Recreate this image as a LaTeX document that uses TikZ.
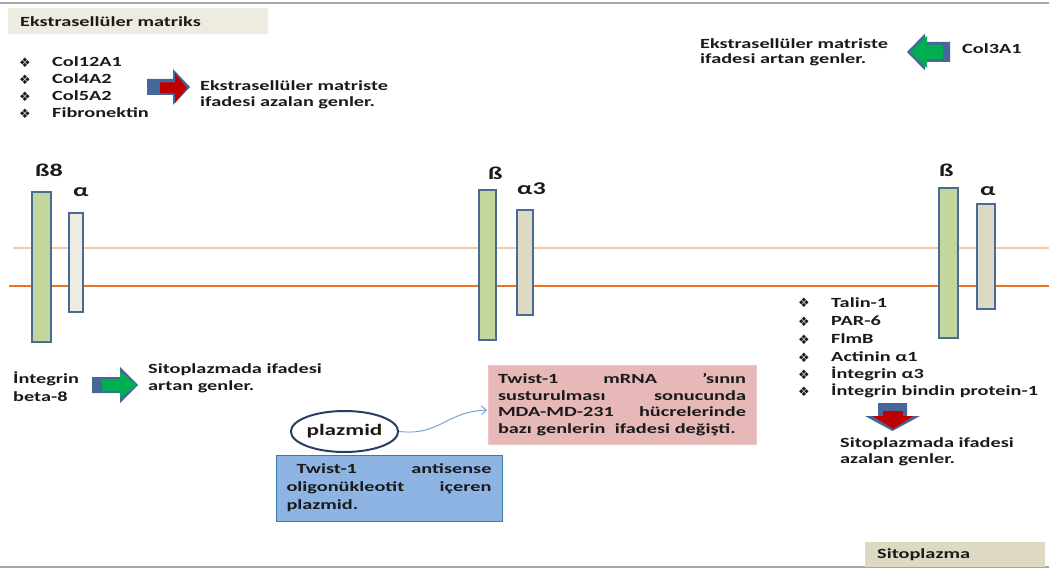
\documentclass[tikz,border=0pt]{standalone}
\usepackage{fontspec}
\setmainfont{Carlito}[FakeStretch=1.45]
\newfontfamily\symfont{DejaVu Sans}
\usetikzlibrary{arrows.meta,shapes.geometric}
\definecolor{hdrF}{HTML}{EEECE1}
\definecolor{cytoF}{HTML}{DDD9C3}
\definecolor{betaF}{HTML}{C3D69B}
\definecolor{barD}{HTML}{4A6B97}
\definecolor{memL}{HTML}{FAC8A0}
\definecolor{memD}{HTML}{EC7420}
\definecolor{pinkF}{HTML}{E6B9B8}
\definecolor{pinkD}{HTML}{EBC6C5}
\definecolor{blueF}{HTML}{8EB4E3}
\definecolor{blueD}{HTML}{3A7CA5}
\definecolor{ellD}{HTML}{254061}
\definecolor{shadB}{HTML}{46679A}
\definecolor{redA}{HTML}{C00000}
\definecolor{greenA}{HTML}{00B050}
\definecolor{connC}{HTML}{6F9BD1}
\definecolor{grayL}{HTML}{A6A6A6}
\definecolor{txtC}{HTML}{1A1A1A}
\newcommand\hblkarrow[7]{\fill[#1] ({#2},{#5-#6}) -- ({#3},{#5-#6}) -- ({#3},{#5-#7}) -- ({#4},{#5}) -- ({#3},{#5+#7}) -- ({#3},{#5+#6}) -- ({#2},{#5+#6}) -- cycle;}
\newcommand\vblkarrow[7]{\fill[#1] ({#5-#6},{#2}) -- ({#5-#6},{#3}) -- ({#5-#7},{#3}) -- ({#5},{#4}) -- ({#5+#7},{#3}) -- ({#5+#6},{#3}) -- ({#5+#6},{#2}) -- cycle;}
\tikzset{
  txt/.style={anchor=base west, inner sep=0pt, text=txtC, font=\bfseries\fontsize{14}{17}\selectfont},
  lbl/.style={anchor=base west, inner sep=0pt, text=txtC, font=\bfseries\fontsize{18}{20}\selectfont},
  bul/.style={anchor=base west, inner sep=0pt, text=txtC, font=\symfont\fontsize{13}{12}\selectfont},
  hdrbox/.style={fill=hdrF, draw=none},
  cytobox/.style={fill=cytoF, draw=none},
  betabar/.style={draw=barD, line width=2.2pt, fill=betaF, inner sep=0pt},
  alphabar/.style={draw=barD, line width=2.2pt, inner sep=0pt},
  shadow/.style={fill=shadB},
  redfill/.style={fill=redA},
  greenfill/.style={fill=greenA},
  memlight/.style={draw=memL, line width=1.5pt},
  memdark/.style={draw=memD, line width=1.5pt},
  frame/.style={draw=grayL, line width=1.5pt},
  conn/.style={draw=connC, line width=0.9pt, -{Straight Barb[length=5pt,width=9pt]}},
}
\begin{document}
\begin{tikzpicture}[x=1pt,y=-1pt]
\useasboundingbox (0,0) rectangle (1049,569);
\fill[white] (0,0) rectangle (1049,569);
% frame lines
\draw[frame] (0,3) -- (1049,3);
\draw[frame] (0,567) -- (1049,567);
% header
\fill[hdrbox] (8,8) rectangle (268,34);
\node[txt] (hdr) at (20,27) {Ekstrasellüler matriks};
% top-left list
\node[bul] (bu1) at (19,68) {❖};
\node[bul] (bu2) at (19,85) {❖};
\node[bul] (bu3) at (19,102) {❖};
\node[bul] (bu4) at (19,119) {❖};
\node[txt] (c1) at (52,67) {Col12A1};
\node[txt] (c2) at (52,84) {Col4A2};
\node[txt] (c3) at (52,101) {Col5A2};
\node[txt] (c4) at (52,118) {Fibronektin};
\hblkarrow{shadow}{147}{173}{190}{87}{8}{18}
\hblkarrow{redfill}{160}{175}{187}{88}{5.5}{15}
\node[txt] (ea1) at (200,91) {Ekstrasellüler matriste};
\node[txt] (ea2) at (200,107) {ifadesi azalan genler.};
% top-right
\node[txt] (er1) at (700,49) {Ekstrasellüler matriste};
\node[txt] (er2) at (700,64) {ifadesi artan genler.};
\hblkarrow{shadow}{950}{925}{907}{52}{10}{18.5}
\hblkarrow{greenfill}{943}{927}{910}{52}{7}{16}
\node[txt] (col3) at (962,54) {Col3A1};
% membrane
\draw[memlight] (13,248) -- (1049,248);
\draw[memdark] (9,286) -- (1049,286);
% integrin 1
\node[betabar, minimum width=19pt, minimum height=150pt] (b1) at (41.5,267) {};
\node[alphabar, fill=hdrF, minimum width=14pt, minimum height=99pt] (a1) at (76,262.5) {};
\node[lbl] (lb1) at (35,177) {ß8};
\node[lbl] (la1) at (73,197) {α};
% integrin 2
\node[betabar, minimum width=17pt, minimum height=150pt] (b2) at (487.5,265) {};
\node[alphabar, fill=cytoF, minimum width=16pt, minimum height=105pt] (a2) at (525,262.5) {};
\node[lbl] (lb2) at (488,180) {ß};
\node[lbl] (la2) at (517,195) {α3};
% integrin 3
\node[betabar, minimum width=19pt, minimum height=150pt] (b3) at (948.5,263) {};
\node[alphabar, fill=cytoF, minimum width=18pt, minimum height=105pt] (a3) at (986,256.5) {};
\node[lbl] (lb3) at (939,177) {ß};
\node[lbl] (la3) at (980,196) {α};
% bottom-left
\node[txt] (ib1) at (13,383) {İntegrin};
\node[txt] (ib2) at (13,401) {beta-8};
\hblkarrow{shadow}{92}{120}{138}{385}{8}{18}
\hblkarrow{greenfill}{102}{120}{137}{385}{6}{13}
\node[txt] (sa1) at (148,373) {Sitoplazmada ifadesi};
\node[txt] (sa2) at (148,390) {artan genler.};
% plasmid and boxes
\node[ellipse, draw=ellD, line width=2pt, fill=white, minimum width=93pt, minimum height=41pt, inner sep=0pt, text=txtC, font=\bfseries\fontsize{16}{18}\selectfont] (plazmid) at (344.5,431.5) {plazmid};
\node[fill=pinkF, draw=pinkD, line width=0.8pt, minimum width=268pt, minimum height=79pt, text width=248pt, align=left, inner sep=0pt, text=txtC, font=\bfseries\fontsize{14}{16.8}\selectfont] (pinkbox) at (622,404.5)
  {Twist-1\hfill mRNA\hfill ’sının\\ susturulması\hfill sonucunda\\ MDA-MD-231\hfill hücrelerinde\\ bazı genlerin \ ifadesi değişti.};
\node[fill=blueF, draw=blueD, line width=1pt, minimum width=226pt, minimum height=66pt, text width=205pt, align=left, inner sep=0pt, text=txtC, font=\bfseries\fontsize{14}{18}\selectfont] (bluebox) at (389,488)
  {\hspace*{10pt}Twist-1\hfill antisense\\ oligonükleotit\hfill içeren\\ plazmid.};
\coordinate (ctip) at (487,410);
\draw[conn] (plazmid.east) .. controls (440,436) and (445,412) .. (ctip);
% right list
\node[bul] (r1b) at (798,308) {❖};
\node[bul] (r2b) at (798,326) {❖};
\node[bul] (r3b) at (798,344) {❖};
\node[bul] (r4b) at (798,362) {❖};
\node[bul] (r5b) at (798,379) {❖};
\node[bul] (r6b) at (798,396) {❖};
\node[txt] (r1) at (831,307) {Talin-1};
\node[txt] (r2) at (831,325) {PAR-6};
\node[txt] (r3) at (831,343) {FlmB};
\node[txt] (r4) at (831,361) {Actinin α1};
\node[txt] (r5) at (831,378) {İntegrin α3};
\node[txt] (r6) at (831,395) {İntegrin bindin protein-1};
\vblkarrow{shadow}{403}{416}{431}{892.5}{14.5}{27.5}
\vblkarrow{redfill}{411}{416}{429}{893}{10}{20.5}
\node[txt] (sz1) at (840,447) {Sitoplazmada ifadesi};
\node[txt] (sz2) at (840,463) {azalan genler.};
% sitoplazma
\fill[cytobox] (865,542) rectangle (1045,567);
\node[txt] (cyto) at (877,558) {Sitoplazma};
\end{tikzpicture}
\end{document}
